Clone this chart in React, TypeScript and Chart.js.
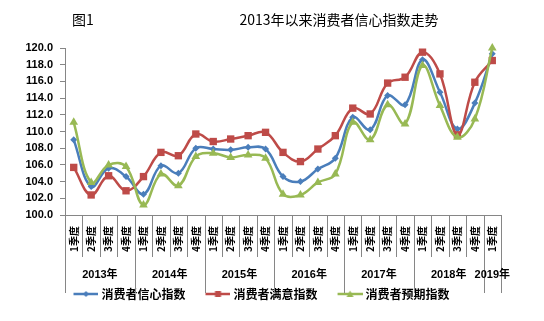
import React, { useEffect, useRef } from 'react';
import { Chart, registerables } from 'chart.js';

Chart.register(...registerables);

const quarterLabels = [
  '1季度', '2季度', '3季度', '4季度',
  '1季度', '2季度', '3季度', '4季度',
  '1季度', '2季度', '3季度', '4季度',
  '1季度', '2季度', '3季度', '4季度',
  '1季度', '2季度', '3季度', '4季度',
  '1季度', '2季度', '3季度', '4季度',
  '1季度',
];
const yearLabels = ['2013年', '2014年', '2015年', '2016年', '2017年', '2018年', '2019年'];
const quartersPerYear = [4, 4, 4, 4, 4, 4, 1];

const confidenceIndex = [109.0, 103.4, 105.6, 104.6, 102.5, 105.9, 105.0, 108.0, 107.9, 107.8, 108.1, 107.9, 104.6, 104.0, 105.5, 106.8, 111.7, 110.2, 114.3, 113.2, 118.6, 114.7, 110.3, 113.4, 119.3];
const satisfactionIndex = [105.7, 102.4, 104.7, 102.9, 104.6, 107.5, 107.1, 109.7, 108.8, 109.1, 109.5, 109.9, 107.5, 106.4, 107.9, 109.5, 112.8, 112.1, 115.8, 116.5, 119.5, 116.9, 109.6, 115.9, 118.5];
const expectationIndex = [111.1, 103.9, 106.0, 105.8, 101.2, 104.9, 103.5, 107.0, 107.4, 106.9, 107.2, 106.8, 102.5, 102.4, 103.9, 104.9, 111.1, 109.0, 113.2, 110.9, 117.9, 113.1, 109.3, 111.5, 120.0];

const seriesNames = ['消费者信心指数', '消费者满意指数', '消费者预期指数'];
const yMin = 100;
const yMax = 120;
const yStep = 2;
const figureLabel = '图1';
const chartTitle = '2013年以来消费者信心指数走势';

const COLORS = ['#4A7EBB', '#BE4B48', '#98B954'];
const STYLES = ['rectRot', 'rect', 'triangle'];
const RADII = [3.5, 5.2, 5];
const AXIS = '#868686';
const LATIN = '"Liberation Sans", Arial, "Noto Sans CJK SC", sans-serif';
const CJK = '"Noto Sans CJK SC", "Liberation Sans", sans-serif';

const LEGEND_BOX = 30;

function legendImage(color: string, style: string): HTMLCanvasElement {
  // image wider than the legend box so the line ends close to the text
  const w = LEGEND_BOX + 6;
  const c = document.createElement('canvas');
  c.width = w;
  c.height = 10;
  const g = c.getContext('2d')!;
  g.strokeStyle = color;
  g.fillStyle = color;
  g.lineWidth = 2.5;
  const x0 = w - 25;
  const mx = x0 + 12.5;
  g.beginPath();
  g.moveTo(x0, 5);
  g.lineTo(w, 5);
  g.stroke();
  g.beginPath();
  if (style === 'rect') {
    g.rect(mx - 3, 2, 6, 6);
  } else if (style === 'rectRot') {
    g.moveTo(mx, 2); g.lineTo(mx + 3, 5); g.lineTo(mx, 8); g.lineTo(mx - 3, 5); g.closePath();
  } else {
    g.moveTo(mx, 1.5); g.lineTo(mx + 3.5, 8); g.lineTo(mx - 3.5, 8); g.closePath();
  }
  g.fill();
  return c;
}

const decorPlugin = {
  id: 'decor',
  afterDraw(chart: any) {
    const ctx = chart.ctx as CanvasRenderingContext2D;
    const xs = chart.scales.x;
    const axisY = chart.chartArea.bottom;
    const n = quarterLabels.length;
    const half = (xs.getPixelForValue(1) - xs.getPixelForValue(0)) / 2;
    const boundary = (i: number) => (i < n ? xs.getPixelForValue(i) - half : xs.getPixelForValue(n - 1) + half);
    const yearStarts = new Set<number>();
    let acc = 0;
    yearStarts.add(0);
    quartersPerYear.forEach((q) => { acc += q; yearStarts.add(acc); });

    ctx.save();
    ctx.strokeStyle = AXIS;
    ctx.lineWidth = 1;
    for (let i = 0; i <= n; i++) {
      const px = Math.round(boundary(i)) + 0.5;
      const long = yearStarts.has(i);
      ctx.beginPath();
      ctx.moveTo(px, axisY);
      ctx.lineTo(px, axisY + (long ? 78 : 42));
      ctx.stroke();
    }
    // year labels
    ctx.fillStyle = '#000';
    ctx.font = `bold 11px ${LATIN}`;
    ctx.textAlign = 'center';
    ctx.textBaseline = 'middle';
    let start = 0;
    yearLabels.forEach((label, k) => {
      const end = start + quartersPerYear[k];
      const cx = (boundary(start) + boundary(end)) / 2;
      ctx.fillText(label, cx, axisY + 60);
      start = end;
    });
    // titles
    ctx.font = `14px ${CJK}`;
    ctx.textAlign = 'left';
    ctx.fillText(figureLabel, 72, 20);
    ctx.textAlign = 'center';
    ctx.fillText(chartTitle, 339, 20);
    ctx.restore();
  },
};

export default function App() {
  const ref = useRef<HTMLCanvasElement>(null);
  useEffect(() => {
    if (!ref.current) return;
    const series = [confidenceIndex, satisfactionIndex, expectationIndex];
    const images = COLORS.map((c, i) => legendImage(c, STYLES[i]));
    const chart = new Chart(ref.current, {
      type: 'line',
      data: {
        labels: quarterLabels,
        datasets: series.map((d, i) => ({
          label: seriesNames[i],
          data: d,
          borderColor: COLORS[i],
          backgroundColor: COLORS[i],
          borderWidth: 2.5,
          pointStyle: STYLES[i] as any,
          pointRadius: RADII[i],
          pointBorderWidth: 0,
          pointBackgroundColor: COLORS[i],
          tension: 0.4,
          clip: false as any,
          order: 3 - i,
          yAxisID: 'y',
        })),
      },
      options: {
        animation: false,
        responsive: false,
        devicePixelRatio: 1,
        layout: { padding: { top: 48, right: 29, left: 0, bottom: 11 } },
        plugins: {
          title: { display: false },
          tooltip: { enabled: false },
          legend: {
            position: 'bottom',
            labels: {
              usePointStyle: true,
              pointStyleWidth: LEGEND_BOX,
              padding: 12,
              color: '#000',
              font: { size: 12, weight: 'bold', family: CJK },
              generateLabels: () =>
                seriesNames.map((name, i) => ({
                  text: name,
                  pointStyle: images[i] as any,
                  fillStyle: COLORS[i],
                  strokeStyle: COLORS[i],
                  lineWidth: 0,
                  hidden: false,
                  datasetIndex: i,
                })),
            },
          },
        },
        scales: {
          x: {
            type: 'category',
            offset: true,
            grid: { display: false, drawTicks: false },
            border: { display: true, color: AXIS, width: 1 },
            ticks: {
              autoSkip: false,
              minRotation: 90,
              maxRotation: 90,
              padding: 11,
              color: '#000',
              font: { size: 10, weight: 'bold', family: CJK },
            },
            afterFit: (s: any) => { s.height = 61; },
          },
          y: {
            min: yMin,
            max: yMax,
            grid: { drawOnChartArea: false, drawTicks: true, tickLength: 5, color: AXIS },
            border: { display: true, color: AXIS, width: 1 },
            ticks: {
              stepSize: yStep,
              padding: 7,
              color: '#000',
              font: { size: 11, weight: 'bold', family: LATIN },
              callback: (v: any) => Number(v).toFixed(1),
            },
            afterFit: (s: any) => { s.width = 65; },
          },
          spacer: {
            type: 'linear',
            position: 'right',
            display: true,
            grid: { display: false, drawTicks: false },
            border: { display: false },
            ticks: { display: false },
            afterFit: (s: any) => { s.width = 14; },
          },
        },
      },
      plugins: [decorPlugin],
    });
    return () => chart.destroy();
  }, []);
  return (
    <div style={{ position: 'absolute', left: 0, top: 0, width: 544, height: 321, background: '#fff' }}>
      <canvas ref={ref} width={544} height={321} />
    </div>
  );
}
